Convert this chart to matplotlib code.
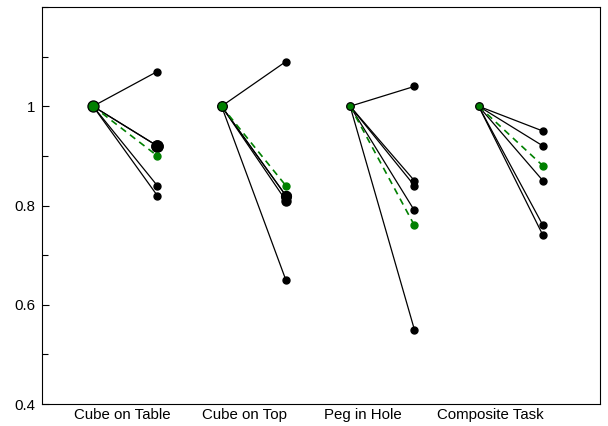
import matplotlib
matplotlib.use("Agg")
import matplotlib.pyplot as plt
from matplotlib.ticker import MultipleLocator

plt.rcParams['font.family'] = ['Liberation Sans', 'DejaVu Sans']

tasks = ["Cube on Table", "Cube on Top", "Peg in Hole", "Composite Task"]
baseline = [1.0, 1.0, 1.0, 1.0]
runs = [
    [1.07, 0.92, 0.92, 0.84, 0.82],
    [1.09, 0.82, 0.82, 0.81, 0.65],
    [1.04, 0.85, 0.84, 0.79, 0.55],
    [0.95, 0.92, 0.85, 0.76, 0.74],
]
means = [0.90, 0.84, 0.76, 0.88]

# marker sizes per group (start point, end points)
start_ms = [8, 7, 5.5, 5.5]
end_ms = [
    [5, 8, 8, 5, 5],
    [5, 7, 7, 6.5, 5],
    [5, 5, 5, 5, 5],
    [5, 5, 5, 5, 5],
]
label_pos = [0.226, 1.18, 2.10, 3.09]

green = "#008000"
fig = plt.figure(figsize=(6.08, 4.26), dpi=100)
ax = fig.add_axes([42 / 608, 22 / 426, 558 / 608, 397 / 426])

step = 0.5
for i, (b, vals, m) in enumerate(zip(baseline, runs, means)):
    x0, x1 = i, i + step
    for v, ms in zip(vals, end_ms[i]):
        ax.plot([x0, x1], [b, v], color="black", lw=0.9, zorder=2)
        ax.plot(x1, v, "o", color="black", ms=ms, zorder=3)
    ax.plot([x0, x1], [b, m], color=green, lw=1.2, ls=(0, (4, 3)), zorder=4)
    ax.plot(x1, m, "o", color=green, ms=5, zorder=5)
    ax.plot(x0, b, "o", color=green, mec="black", mew=0.9, ms=start_ms[i], zorder=6)

ax.set_xlim(-0.397, 3.944)
ax.set_ylim(0.4, 1.2)
ax.yaxis.set_minor_locator(MultipleLocator(0.1))
ax.set_yticks([0.4, 0.6, 0.8, 1.0])
ax.set_yticklabels(["0.4", "0.6", "0.8", "1"])
ax.tick_params(axis="y", which="major", direction="in", length=5, width=0.8, labelsize=10.8, pad=5)
ax.tick_params(axis="y", which="minor", direction="in", length=4, width=0.8)
ax.set_xticks(label_pos)
ax.set_xticklabels(tasks)
ax.tick_params(axis="x", length=0, labelsize=10.8, pad=3)
for s in ax.spines.values():
    s.set_linewidth(0.8)

fig.savefig("out.png", dpi=100)
